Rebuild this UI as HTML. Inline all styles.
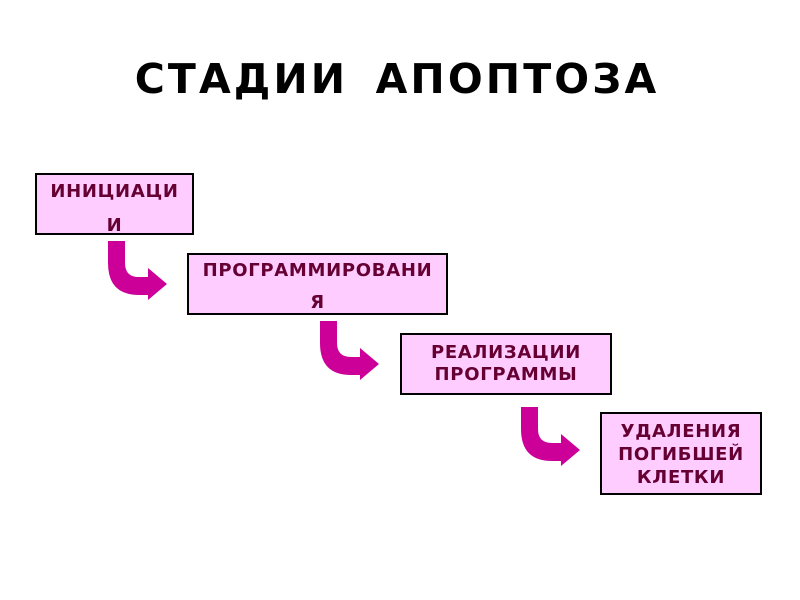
<!DOCTYPE html>
<html><head><meta charset="utf-8"><style>
body{margin:0;width:800px;height:600px;background:#fff;position:relative;overflow:hidden;font-family:"DejaVu Sans","Liberation Sans",sans-serif;}
.t{position:absolute;left:-3px;width:800px;top:55px;text-align:center;font-weight:bold;font-size:41px;letter-spacing:3.1px;color:#000;word-spacing:10px}
.b{position:absolute;box-sizing:border-box;border:2px solid #000;background:#ffccff;color:#660033;font-weight:bold;font-size:18px;letter-spacing:0.7px;text-align:center}
.a{position:absolute}
</style></head><body>
<div class="t">СТАДИИ АПОПТОЗА</div>
<div class="b" style="left:35px;top:173px;width:159px;height:62px;line-height:34px">ИНИЦИАЦИ<br>И</div>
<div class="b" style="left:187px;top:253px;width:261px;height:62px;line-height:32px">ПРОГРАММИРОВАНИ<br>Я</div>
<div class="b" style="left:400px;top:333px;width:212px;height:62px;line-height:22px;padding-top:7px">РЕАЛИЗАЦИИ<br>ПРОГРАММЫ</div>
<div class="b" style="left:600px;top:412px;width:162px;height:83px;line-height:23px;padding-top:6px">УДАЛЕНИЯ<br>ПОГИБШЕЙ<br>КЛЕТКИ</div>
<svg class="a" width="800" height="600" style="left:0;top:0">
<defs><path id="ar" d="M0,0 H17 V22 Q17,36 31,36 H40 V27 L59,43 L40,59 V54 H31 Q0,54 0,22 Z" fill="#cc0099"/></defs>
<use href="#ar" x="108" y="241"/>
<use href="#ar" x="320" y="321"/>
<use href="#ar" x="521" y="407"/>
</svg>
</body></html>
